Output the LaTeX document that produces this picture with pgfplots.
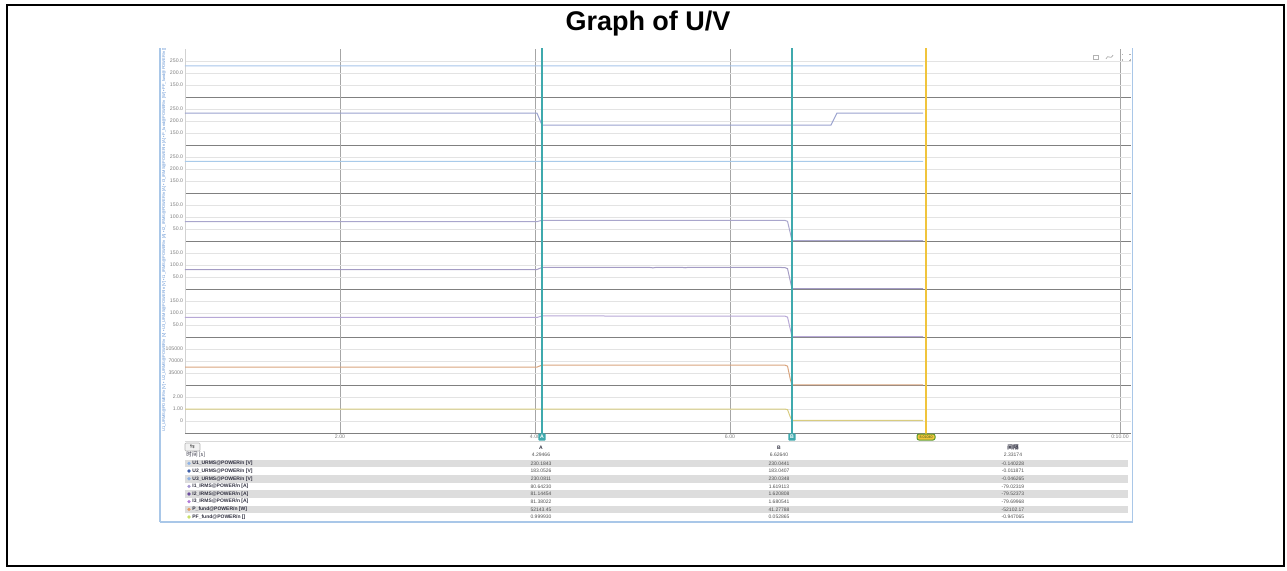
\documentclass[border=0pt]{standalone}
\usepackage{pgfplots}
\pgfplotsset{compat=1.18}
\usepackage{fontspec}
\setmainfont{Liberation Sans}
\newfontfamily\cjk{Noto Sans CJK SC}
\newfontfamily\dejavu{DejaVu Sans}

\definecolor{sep}{HTML}{808080}
\definecolor{gmaj}{HTML}{A6A6A6}
\definecolor{gmin}{HTML}{E3E3E3}
\definecolor{cur}{HTML}{3FA9AD}
\definecolor{curY}{HTML}{F0C43C}
\definecolor{curYb}{HTML}{5E9B2E}
\definecolor{bord}{HTML}{A9C7E8}
\definecolor{striptext}{HTML}{5C8ED0}
\definecolor{rowshade}{HTML}{DDDDDD}
\definecolor{rowtext}{HTML}{303040}
\definecolor{valtext}{HTML}{505050}
\definecolor{ticktext}{HTML}{808080}
\definecolor{lU1}{HTML}{A6C4EA}
\definecolor{lU2}{HTML}{9AA2CE}
\definecolor{lU3}{HTML}{A9CBEA}
\definecolor{lI1}{HTML}{A9A6CC}
\definecolor{lI2}{HTML}{A49CC4}
\definecolor{lI3}{HTML}{B7A8D6}
\definecolor{lP}{HTML}{D9A47E}
\definecolor{lPF}{HTML}{D8CC80}
\definecolor{dU1}{HTML}{8DB2E6}
\definecolor{dU2}{HTML}{3F5FA8}
\definecolor{dU3}{HTML}{8FB0E0}
\definecolor{dI1}{HTML}{A596D2}
\definecolor{dI2}{HTML}{6B4C9E}
\definecolor{dI3}{HTML}{B07AD6}
\definecolor{dP}{HTML}{E39A62}
\definecolor{dPF}{HTML}{C9E06A}

\newcommand{\tinyfont}{\fontsize{2.6}{3}\selectfont}
\newcommand{\rowfont}{\fontsize{2.5}{3}\selectfont\bfseries}
\newcommand{\valfont}{\fontsize{2.5}{3}\selectfont}
\newcommand{\sepline}{%
  \draw[sep, line width=0.5pt] (rel axis cs:0,0) -- (rel axis cs:1,0);
  \draw[gray!35, line width=0.3pt] (rel axis cs:0,0) -- (rel axis cs:0,1);}
\newcommand{\tabrow}[6]{%
  \fill[#2] (189,#1) circle (0.9pt);
  \node[anchor=west, font=\rowfont, text=rowtext, inner sep=0pt] at (192,#1) {#3};
  \node[font=\valfont, text=valtext, inner sep=0pt] at (541,#1) {#4};
  \node[font=\valfont, text=valtext, inner sep=0pt] at (779,#1) {#5};
  \node[font=\valfont, text=valtext, inner sep=0pt] at (1013,#1) {#6};}

\pgfplotsset{panel/.style={
  scale only axis, width=473pt, height=24pt,
  xmin=0.41026, xmax=10.1128,
  axis line style={draw=none},
  scaled y ticks=false, scaled x ticks=false,
  xtick={2,4,6,8,10}, xticklabels={},
  xmajorgrids, ymajorgrids,
  x grid style={gmaj, line width=0.4pt},
  y grid style={gmin, line width=0.35pt},
  major tick length=0pt,
  yticklabel style={font=\tinyfont, text=ticktext, inner sep=0.8pt},
  xticklabel style={font=\tinyfont, text=ticktext, inner sep=0.8pt},
  every axis plot/.append style={line width=0.5pt, mark=none},
  anchor=north west, clip=false,
}}

\begin{document}
\begin{tikzpicture}
\path[use as bounding box] (0,0) rectangle (643.5pt,-285pt);
\begin{scope}[x=0.5pt,y=-0.5pt]
  \draw[black, line width=1pt] (7,5) rectangle (1284,566);
  \node[font=\fontsize{13.5}{16}\selectfont\bfseries, anchor=base] at (648,30) {Graph of U/V};
  % screenshot borders
  \draw[bord, line width=0.8pt] (1132.5,48) -- (1132.5,522) -- (160,522);
  \draw[bord, line width=0.8pt] (160,48) -- (160,522);
  \node[rotate=90, font=\fontsize{2.0}{2.4}\selectfont, text=striptext, inner sep=0pt] at (164,240)
   {U1\_URMS@POWER/n [V] \textbullet\ U2\_URMS@POWER/n [V] \textbullet\ U3\_URMS@POWER/n [V] \textbullet\ I1\_IRMS@POWER/n [A] \textbullet\ I2\_IRMS@POWER/n [A] \textbullet\ I3\_IRMS@POWER/n [A] \textbullet\ P\_fund@POWER/n [W] \textbullet\ PF\_fund@POWER/n []};
  % icons top right
  \draw[gray!60, line width=0.3pt] (1093,55) rectangle (1098,59);
  \draw[gray!60, line width=0.4pt] (1106,59) .. controls (1108,53) and (1110,61) .. (1113,55);
  \draw[gray!60, line width=0.3pt] (1122,55) -- (1122,54) -- (1123,54) (1129,54) -- (1130,54) -- (1130,55) (1122,59) -- (1122,60) -- (1123,60) (1129,60) -- (1130,60) -- (1130,59);
\end{scope}

% Panel 1: U1
\begin{axis}[panel, at={(92.5pt,-24.5pt)}, ymin=100, ymax=300, ytick={150,200,250}, yticklabels={150.0,200.0,250.0}]
\sepline
\addplot[lU1] coordinates {(0.41026,230.18) (7.9795,230.04)};
\end{axis}
% Panel 2: U2
\begin{axis}[panel, at={(92.5pt,-48.5pt)}, ymin=100, ymax=300, ytick={150,200,250}, yticklabels={150.0,200.0,250.0}]
\sepline
\addplot[lU2] coordinates {(0.41026,233.2) (4.02,233.2) (4.0718,183.05) (7.036,183.04) (7.097,233.1) (7.9795,233.1)};
\end{axis}
% Panel 3: U3
\begin{axis}[panel, at={(92.5pt,-72.5pt)}, ymin=100, ymax=300, ytick={150,200,250}, yticklabels={150.0,200.0,250.0}]
\sepline
\addplot[lU3] coordinates {(0.41026,231.5) (7.9795,231.4)};
\end{axis}
% Panel 4: I1
\begin{axis}[panel, at={(92.5pt,-96.5pt)}, ymin=0, ymax=200, ytick={50,100,150}, yticklabels={50.0,100.0,150.0}]
\sepline
\addplot[lI1] coordinates {(0.41026,80.64) (4.02,80.64) (4.0718,86.5) (6.56,86.5) (6.59,82) (6.62,30) (6.6359,1.62) (7.9795,1.62)};
\end{axis}
% Panel 5: I2
\begin{axis}[panel, at={(92.5pt,-120.5pt)}, ymin=0, ymax=200, ytick={50,100,150}, yticklabels={50.0,100.0,150.0}]
\sepline
\addplot[lI2] coordinates {(0.41026,81.14) (4.02,81.14) (4.0718,90.0) (4.6,90.3) (5.18,89.8) (5.21,88.2) (5.24,89.9) (5.51,90.1) (5.54,88.5) (5.57,90.2) (6.1,90.0) (6.56,89.6) (6.59,85) (6.62,30) (6.6359,1.62) (7.9795,1.62)};
\end{axis}
% Panel 6: I3
\begin{axis}[panel, at={(92.5pt,-144.5pt)}, ymin=0, ymax=200, ytick={50,100,150}, yticklabels={50.0,100.0,150.0}]
\sepline
\addplot[lI3] coordinates {(0.41026,81.38) (4.02,81.38) (4.0718,87.6) (6.56,87.4) (6.59,83) (6.62,30) (6.6359,1.68) (7.9795,1.68)};
\end{axis}
% Panel 7: P
\begin{axis}[panel, at={(92.5pt,-168.5pt)}, ymin=0, ymax=140000, ytick={35000,70000,105000}, yticklabels={35000,70000,105000}]
\sepline
\addplot[lP] coordinates {(0.41026,52143) (4.02,52143) (4.0718,58300) (6.56,58300) (6.59,55000) (6.62,15000) (6.6359,41.3) (7.9795,41.3)};
\end{axis}
% Panel 8: PF
\begin{axis}[panel, at={(92.5pt,-192.5pt)}, ymin=-1, ymax=3, ytick={0,1,2}, yticklabels={0,1.00,2.00}, xticklabels={2.00,4.00,6.00,8.00,0:10.00}]
\sepline
\addplot[lPF] coordinates {(0.41026,0.99993) (6.56,0.99993) (6.59,0.95) (6.62,0.3) (6.6359,0.0529) (7.9795,0.0529)};
\end{axis}

% Cursors
\begin{axis}[scale only axis, width=473pt, height=192.5pt, at={(92.5pt,-24pt)}, anchor=north west,
  xmin=0.41026, xmax=10.1128, ymin=0, ymax=1, hide axis, clip=false]
\addplot[cur, line width=0.8pt, mark=none] coordinates {(4.0718,-0.01) (4.0718,1)};
\addplot[cur, line width=0.8pt, mark=none] coordinates {(6.6359,-0.01) (6.6359,1)};
\addplot[curY, line width=0.8pt, mark=none] coordinates {(8.0103,-0.01) (8.0103,1)};
\node[fill=cur, text=white, font=\tinyfont\bfseries, minimum width=3.6pt, minimum height=3.6pt, inner sep=0pt, rounded corners=0.4pt] at (axis cs:4.0718,-0.0104) {A};
\node[fill=cur, text=white, font=\tinyfont\bfseries, minimum width=3.6pt, minimum height=3.6pt, inner sep=0pt, rounded corners=0.4pt] at (axis cs:6.6359,-0.0104) {B};
\node[fill=curY, draw=curYb, line width=0.5pt, rounded corners=1pt, minimum width=9pt, minimum height=3pt, inner sep=0pt, font=\fontsize{1.8}{2}\selectfont, text=curYb!60!black] at (axis cs:8.0103,-0.0104) {8.01040};
\end{axis}

% Table
\begin{scope}[x=0.5pt,y=-0.5pt]
  \draw[gray!30, line width=0.3pt] (185,441) -- (1131,441);
  \draw[gray!60, fill=gray!10, rounded corners=0.5pt, line width=0.3pt] (185,443) rectangle (200,451);
  \node[font=\dejavu\fontsize{3}{3}\selectfont, text=black!70, inner sep=0pt] at (192.5,447) {⇆};
  \node[anchor=west, font=\cjk\fontsize{2.8}{3}\selectfont, text=rowtext, inner sep=0pt] at (186,454.5) {时间 [s]};
  \node[font=\rowfont, text=rowtext, inner sep=0pt] at (541,447.5) {A};
  \node[font=\valfont, text=valtext, inner sep=0pt] at (541,454.5) {4.29466};
  \node[font=\rowfont, text=rowtext, inner sep=0pt] at (779,447.5) {B};
  \node[font=\valfont, text=valtext, inner sep=0pt] at (779,454.5) {6.62640};
  \node[font=\cjk\fontsize{2.8}{3}\selectfont\bfseries, text=rowtext, inner sep=0pt] at (1013,447.5) {间隔};
  \node[font=\valfont, text=valtext, inner sep=0pt] at (1013,454.5) {2.33174};
  \foreach \yy in {463.3,478.7,494,509.3} {\fill[rowshade] (185,\yy-3.8) rectangle (1128,\yy+3.8);}
  \tabrow{463.3}{dU1}{U1\_URMS@POWER/n [V]}{230.1843}{230.0441}{-0.140228}
  \tabrow{471}{dU2}{U2\_URMS@POWER/n [V]}{183.0526}{183.0407}{-0.011871}
  \tabrow{478.7}{dU3}{U3\_URMS@POWER/n [V]}{230.0811}{230.0348}{-0.046265}
  \tabrow{486.3}{dI1}{I1\_IRMS@POWER/n [A]}{80.64230}{1.619113}{-79.02319}
  \tabrow{494}{dI2}{I2\_IRMS@POWER/n [A]}{81.14454}{1.620808}{-79.52373}
  \tabrow{501.6}{dI3}{I3\_IRMS@POWER/n [A]}{81.38022}{1.680541}{-79.69968}
  \tabrow{509.3}{dP}{P\_fund@POWER/n [W]}{52143.45}{41.27788}{-52102.17}
  \tabrow{517}{dPF}{PF\_fund@POWER/n []}{0.999930}{0.052865}{-0.947065}
\end{scope}
\end{tikzpicture}
\end{document}
